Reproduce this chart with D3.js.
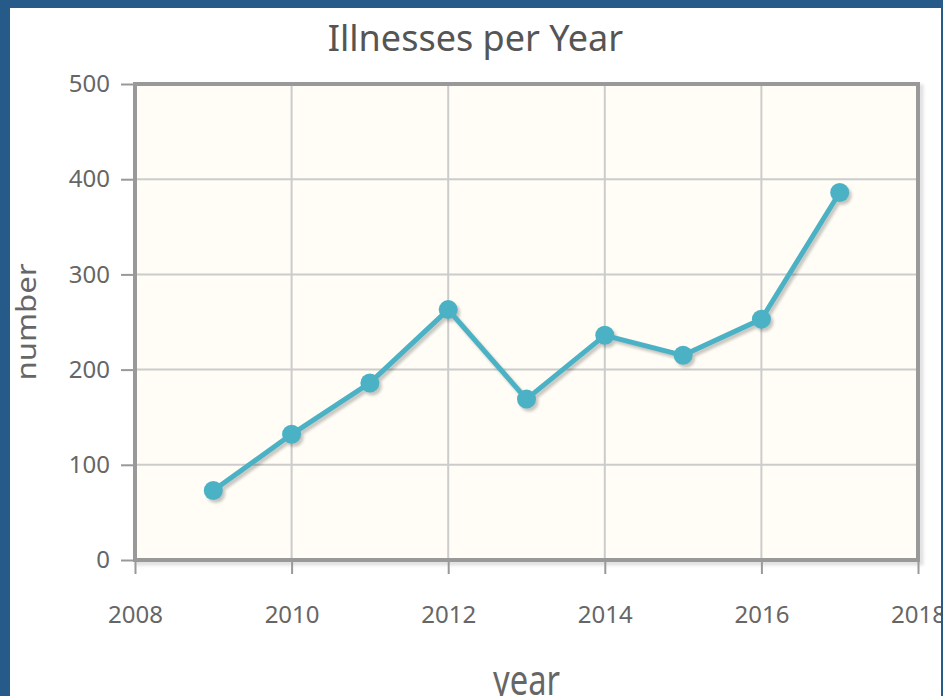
<!DOCTYPE html>
<html>
<head>
<meta charset="utf-8">
<script src="https://cdn.jsdelivr.net/npm/d3@7/dist/d3.min.js"></script>
<style>
  html, body { margin: 0; padding: 0; background: #265a88; }
  svg { display: block; }
</style>
</head>
<body>
<div id="chart"></div>
<script>
// data
const years = [2009, 2010, 2011, 2012, 2013, 2014, 2015, 2016, 2017]
const illnesses = [73, 132, 186, 263, 169, 236, 215, 253, 386]
const xTicks = [2008, 2010, 2012, 2014, 2016, 2018]
const yTicks = [0, 100, 200, 300, 400, 500]

const width = 943
const height = 696
const panel = { x: 10, y: 8, w: 931, h: 700 }
const margin = { top: 84, right: 25, bottom: 136, left: 135 }
const font = '"Noto Sans", sans-serif'
const lineColor = '#4bb2c5'

const svg = d3.select('#chart')
  .append('svg')
  .attr('width', width)
  .attr('height', height)

const defs = svg.append('defs')
defs.append('clipPath').attr('id', 'panelClip')
  .append('rect')
  .attr('x', panel.x).attr('y', panel.y)
  .attr('width', panel.w).attr('height', panel.h)
defs.append('filter').attr('id', 'soft')
  .attr('x', '-20%').attr('y', '-20%').attr('width', '140%').attr('height', '140%')
  .append('feGaussianBlur').attr('stdDeviation', 1.4)

// white panel on the blue page
svg.append('rect')
  .attr('x', panel.x).attr('y', panel.y)
  .attr('width', panel.w).attr('height', panel.h)
  .attr('fill', '#ffffff')

const g = svg.append('g').attr('clip-path', 'url(#panelClip)')

const x = d3.scaleLinear()
  .domain([2008, 2018])
  .range([margin.left, width - margin.right])
const y = d3.scaleLinear()
  .domain([0, 500])
  .range([height - margin.bottom, margin.top])

const [x0, x1] = x.range()
const [y0, y1] = y.range()

// border shadow
g.append('rect')
  .attr('x', x0 + 3).attr('y', y1 + 3)
  .attr('width', x1 - x0).attr('height', y0 - y1)
  .attr('fill', 'none')
  .attr('stroke', 'rgba(0,0,0,0.12)')
  .attr('stroke-width', 5)
  .attr('filter', 'url(#soft)')

// plot background
g.append('rect')
  .attr('x', x0).attr('y', y1)
  .attr('width', x1 - x0).attr('height', y0 - y1)
  .attr('fill', '#fffdf6')

// grid
g.append('g')
  .selectAll('line')
  .data(xTicks)
  .join('line')
  .attr('x1', d => x(d)).attr('x2', d => x(d))
  .attr('y1', y1).attr('y2', y0)
  .attr('stroke', '#cccccc')
  .attr('stroke-width', 2)

g.append('g')
  .selectAll('line')
  .data(yTicks)
  .join('line')
  .attr('x1', x0).attr('x2', x1)
  .attr('y1', d => y(d)).attr('y2', d => y(d))
  .attr('stroke', '#cccccc')
  .attr('stroke-width', 2)

// axes
const styleAxis = sel => {
  sel.select('.domain').remove()
  sel.selectAll('.tick line').attr('stroke', '#999999').attr('stroke-width', 2)
  sel.selectAll('.tick text')
    .attr('fill', '#666666')
    .style('font-family', font)
    .style('font-size', '24px')
}

g.append('g')
  .attr('transform', `translate(${x0},0)`)
  .call(d3.axisLeft(y).tickValues(yTicks).tickSize(14).tickPadding(11).tickFormat(d3.format('d')))
  .call(styleAxis)

g.append('g')
  .attr('transform', `translate(0,${y0})`)
  .call(d3.axisBottom(x).tickValues(xTicks).tickSize(14).tickPadding(32).tickFormat(d3.format('d')))
  .call(styleAxis)

// plot border
g.append('rect')
  .attr('x', x0).attr('y', y1)
  .attr('width', x1 - x0).attr('height', y0 - y1)
  .attr('fill', 'none')
  .attr('stroke', '#999999')
  .attr('stroke-width', 4)

// series
const points = years.map((yr, i) => ({ year: yr, value: illnesses[i] }))
const line = d3.line().x(d => x(d.year)).y(d => y(d.value))

const shadow = g.append('g')
  .attr('transform', 'translate(2.5,3)')
  .attr('filter', 'url(#soft)')
  .attr('opacity', 0.22)
shadow.append('path')
  .datum(points)
  .attr('d', line)
  .attr('fill', 'none')
  .attr('stroke', '#000')
  .attr('stroke-width', 5)
  .attr('stroke-linejoin', 'round')
shadow.selectAll('circle')
  .data(points)
  .join('circle')
  .attr('cx', d => x(d.year))
  .attr('cy', d => y(d.value))
  .attr('r', 9.5)
  .attr('fill', '#000')

g.append('path')
  .datum(points)
  .attr('d', line)
  .attr('fill', 'none')
  .attr('stroke', lineColor)
  .attr('stroke-width', 5)
  .attr('stroke-linejoin', 'round')

g.selectAll('circle.pt')
  .data(points)
  .join('circle')
  .attr('class', 'pt')
  .attr('cx', d => x(d.year))
  .attr('cy', d => y(d.value))
  .attr('r', 9.5)
  .attr('fill', lineColor)

// title and axis labels
g.append('text')
  .attr('x', panel.x + panel.w / 2)
  .attr('y', 51)
  .attr('text-anchor', 'middle')
  .attr('fill', '#555555')
  .style('font-family', font)
  .style('font-size', '36px')
  .text('Illnesses per Year')

g.append('text')
  .attr('transform', `translate(36,${(y0 + y1) / 2}) rotate(-90)`)
  .attr('text-anchor', 'middle')
  .attr('fill', '#666666')
  .attr('textLength', 117)
  .attr('lengthAdjust', 'spacingAndGlyphs')
  .style('font-family', font)
  .style('font-size', '27px')
  .text('number')

g.append('text')
  .attr('x', (x0 + x1) / 2)
  .attr('y', 695)
  .attr('text-anchor', 'middle')
  .attr('fill', '#666666')
  .attr('textLength', 67)
  .attr('lengthAdjust', 'spacingAndGlyphs')
  .style('font-family', font)
  .style('font-size', '42px')
  .text('year')
</script>
</body>
</html>
